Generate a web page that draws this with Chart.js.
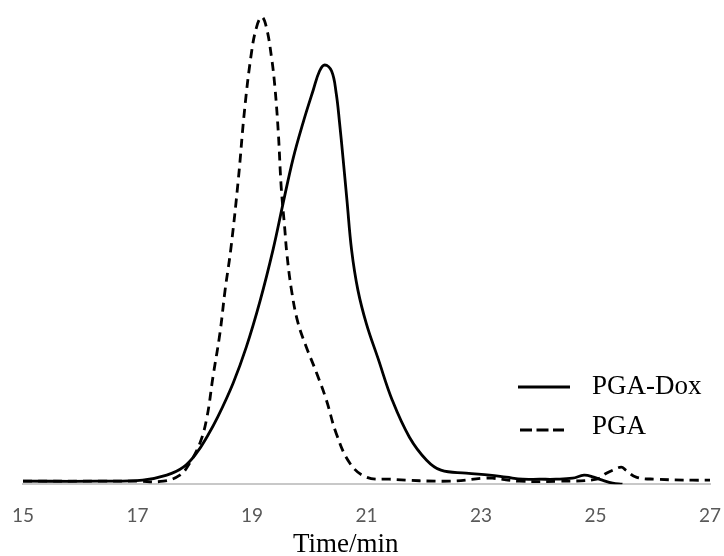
<!DOCTYPE html>
<html>
<head>
<meta charset="utf-8">
<script src="https://cdn.jsdelivr.net/npm/chart.js@4.4.1/dist/chart.umd.min.js"></script>
<style>
  html, body { margin: 0; padding: 0; background: #fff; }
  #wrap { position: relative; width: 724px; height: 556px; }
  .txt { position: absolute; font-family: "Liberation Serif", "Times New Roman", serif; font-size: 27px; line-height: 27px; color: #000; white-space: nowrap; }
  svg.lg { position: absolute; left: 0; top: 0; }
</style>
</head>
<body>
<div id="wrap">
  <canvas id="c" width="724" height="556"></canvas>
  <svg class="lg" width="724" height="556">
    <line x1="518" y1="387" x2="570" y2="387" stroke="#000" stroke-width="3"/>
    <line x1="520" y1="430" x2="564" y2="430" stroke="#000" stroke-width="3" stroke-dasharray="12 4.5"/>
  </svg>
  <div class="txt" id="lg0" style="left:592px; top:372px;"></div>
  <div class="txt" id="lg1" style="left:592px; top:412px;"></div>
  <div class="txt" id="xt" style="left:293px; top:530px;"></div>
</div>
<script>
const xTicks = [15, 17, 19, 21, 23, 25, 27];
const axisTitle = "Time/min";
const seriesNames = ["PGA-Dox", "PGA"];

const pgaDoxTime = [15, 16.3, 17.09, 17.51, 17.80, 18.03, 18.22, 18.40, 18.67, 18.90, 19.14, 19.37, 19.54, 19.72, 19.89, 20.07, 20.18, 20.27, 20.39, 20.47, 20.53, 20.59, 20.66, 20.74, 20.85, 21.0, 21.2, 21.45, 21.75, 22.05, 22.3, 22.74, 23.15, 23.44, 23.73, 24.02, 24.31, 24.6, 24.8, 24.97, 25.12, 25.3, 25.47];
const pgaDoxSignal = [3, 3, 4, 9, 17, 31, 48, 67, 101, 137, 183, 235, 280, 326, 361, 394, 413, 419, 413, 391, 361, 326, 283, 234, 194, 160, 126, 84, 47, 24, 14, 11, 9, 7, 5, 5, 5, 6, 9, 7, 4, 1, 0];

const pgaTime = [15, 16.34, 17.0, 17.45, 17.74, 17.91, 18.09, 18.21, 18.32, 18.44, 18.53, 18.63, 18.76, 18.87, 18.99, 19.08, 19.17, 19.25, 19.34, 19.40, 19.46, 19.51, 19.57, 19.61, 19.69, 19.80, 19.95, 20.13, 20.30, 20.47, 20.71, 21.0, 21.4, 22.45, 23.03, 23.2, 23.67, 24.37, 25.02, 25.19, 25.30, 25.45, 25.53, 25.71, 26.06, 26.7, 27.0];
const pgaSignal = [3, 3, 3, 3, 9, 21, 41, 66, 108, 151, 194, 235, 304, 374, 431, 457, 467, 457, 427, 397, 351, 297, 257, 230, 194, 162, 137, 111, 84, 51, 21, 7, 5, 3, 6, 6, 3, 3, 5, 11, 14, 17, 14, 7, 5, 4, 4];

document.getElementById('lg0').textContent = seriesNames[0];
document.getElementById('lg1').textContent = seriesNames[1];
document.getElementById('xt').textContent = axisTitle;

const toPts = (xs, ys) => xs.map((x, i) => ({ x: x, y: ys[i] }));

new Chart(document.getElementById('c'), {
  type: 'line',
  data: {
    datasets: [
      { label: seriesNames[0], data: toPts(pgaDoxTime, pgaDoxSignal), borderColor: '#000', borderWidth: 2.8, pointRadius: 0, tension: 0.4, fill: false },
      { label: seriesNames[1], data: toPts(pgaTime, pgaSignal), borderColor: '#000', borderWidth: 2.8, borderDash: [9, 6], pointRadius: 0, tension: 0.4, fill: false }
    ]
  },
  options: {
    responsive: false,
    animation: false,
    layout: { padding: { left: 23, right: 14, top: 14, bottom: 9 } },
    plugins: { legend: { display: false }, tooltip: { enabled: false } },
    scales: {
      x: {
        type: 'linear', min: 15, max: 27,
        afterBuildTicks: (axis) => { axis.ticks = xTicks.map(v => ({ value: v })); },
        afterFit: (axis) => { axis.paddingLeft = 0; axis.paddingRight = 0; },
        grid: { display: false, drawTicks: false },
        border: { display: true, color: '#c8c8c8', width: 2 },
        ticks: { color: '#595959', font: { family: 'Lato, "Open Sans", sans-serif', size: 19 }, padding: 20, maxRotation: 0 },
        title: { display: false }
      },
      y: { display: false, min: 0, max: 470 }
    }
  }
});
</script>
</body>
</html>
